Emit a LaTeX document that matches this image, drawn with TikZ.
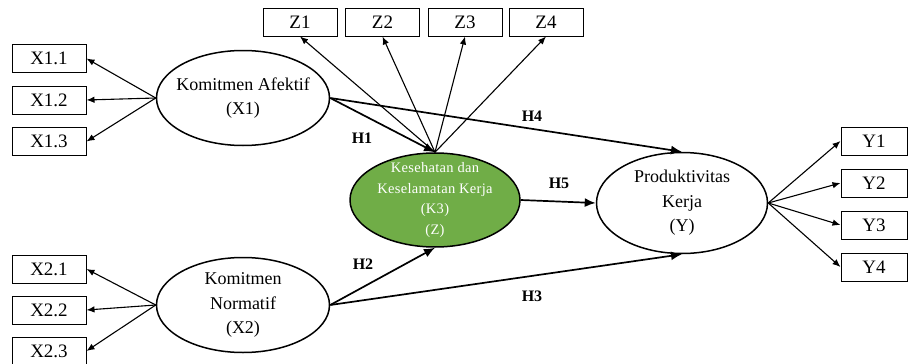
\documentclass[tikz,border=0pt]{standalone}
\usepackage{fontspec}
\setmainfont{Liberation Serif}
\newfontfamily\greenfont[LetterSpace=2]{Liberation Serif}
\usetikzlibrary{shapes.geometric,arrows.meta}
\definecolor{kgreen}{HTML}{70AD47}
\begin{document}
\begin{tikzpicture}[x=1pt,y=-1pt,
  ind/.style={draw,line width=1pt,minimum width=74pt,minimum height=28pt,inner sep=0pt,font=\fontsize{19}{20}\selectfont},
  lat/.style={draw,ellipse,line width=1.5pt,minimum width=173pt,minimum height=95pt,inner sep=0pt},
  lattext/.style={align=center,inner sep=0pt,font=\fontsize{18}{24.5}\selectfont},
  thin/.style={-{Latex[length=8pt,width=6.5pt]},line width=1.1pt},
  thick/.style={-{Latex[length=11pt,width=9pt]},line width=1.7pt},
  hlab/.style={font=\fontsize{16}{18}\selectfont\bfseries}]
\useasboundingbox (0,0) rectangle (908,364);
% latent variables
\node[lat] (X1) at (243,98) {};
\node[lattext] (X1t) at (X1.center) {Komitmen Afektif\\(X1)};
\node[lat] (X2) at (243,305) {};
\node[lattext] (X2t) at (X2.center) {Komitmen\\Normatif\\(X2)};
\node[lat,fill=kgreen,minimum width=170pt,minimum height=94pt] (K3) at (435,200) {};
\node[lattext,text=white,font=\greenfont\fontsize{14.5}{20.5}\selectfont] (K3t) at (K3.center) {Kesehatan dan\\Keselamatan Kerja\\(K3)\\(Z)};
\node[lat,minimum width=171pt,minimum height=101pt] (Y) at (682,203) {};
\node[lattext] (Yt) at (Y.center) {Produktivitas\\Kerja\\(Y)};
% indicators
\node[ind] (X11) at (49,58.5) {X1.1};
\node[ind] (X12) at (49,100) {X1.2};
\node[ind] (X13) at (49,141.5) {X1.3};
\node[ind] (X21) at (49,269) {X2.1};
\node[ind] (X22) at (49,310) {X2.2};
\node[ind] (X23) at (49,351) {X2.3};
\node[ind] (Z1) at (300,22) {Z1};
\node[ind] (Z2) at (382.5,22) {Z2};
\node[ind] (Z3) at (465,22) {Z3};
\node[ind] (Z4) at (546,22) {Z4};
\node[ind,minimum width=66pt] (Y1) at (874,141) {Y1};
\node[ind,minimum width=66pt] (Y2) at (874,183) {Y2};
\node[ind,minimum width=66pt] (Y3) at (874,225) {Y3};
\node[ind,minimum width=66pt] (Y4) at (874,267) {Y4};
% indicator arrows
\foreach \b in {X11,X12,X13} \draw[thin] (X1.west) -- (\b.east);
\foreach \b in {X21,X22,X23} \draw[thin] (X2.west) -- (\b.east);
\foreach \b in {Z1,Z2,Z3,Z4} \draw[thin] (K3.north) -- (\b.south);
\foreach \b in {Y1,Y2,Y3,Y4} \draw[thin] (Y.east) -- (\b.west);
% structural paths
\draw[thick] (X1.east) -- (K3.north);
\draw[thick] (X1.east) -- (Y.north);
\draw[thick] (X2.east) -- (K3.south);
\draw[thick] (X2.east) -- (Y.south);
\draw[thick] (K3.east) -- (Y.west);
% labels
\node[hlab] (H1) at (362,138) {H1};
\node[hlab] (H4) at (532,116) {H4};
\node[hlab] (H5) at (559,183) {H5};
\node[hlab] (H2) at (363,264) {H2};
\node[hlab] (H3) at (532,296) {H3};
\end{tikzpicture}
\end{document}
